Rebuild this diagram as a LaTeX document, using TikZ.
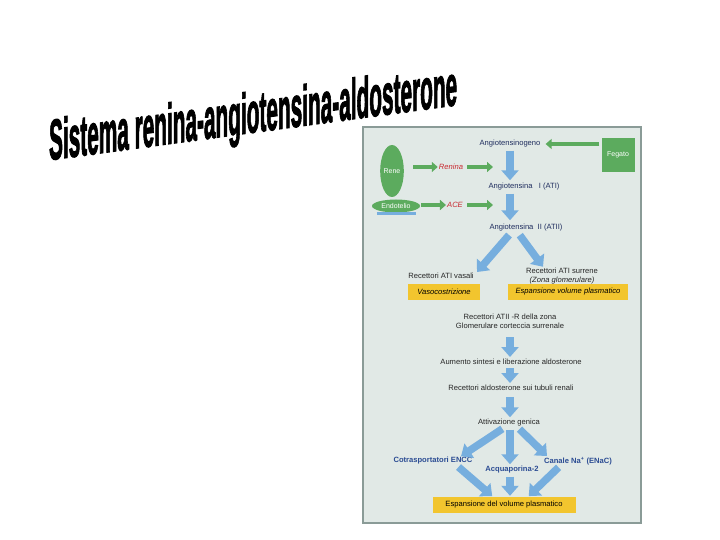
\documentclass[tikz,border=0pt]{standalone}
\usepackage{fontspec}
\setmainfont{Liberation Sans}
\newfontfamily\titolofont[FakeBold=2.5]{Liberation Sans Bold}
\usepackage{xcolor}
\usetikzlibrary{arrows.meta,shapes.geometric}

\definecolor{pannello}{HTML}{E1E9E6}
\definecolor{bordo}{HTML}{8A9B97}
\definecolor{verdino}{HTML}{5CAB5E}
\definecolor{azzurro}{HTML}{76AEDE}
\definecolor{gialloscuro}{HTML}{F2C52E}
\definecolor{navy}{HTML}{1F2D5E}
\definecolor{rosso}{HTML}{C8282F}
\definecolor{bluscuro}{HTML}{2B4C93}

\begin{document}
\begin{tikzpicture}[x=1pt,y=-1pt,
    lab/.style={font=\fontsize{7.6}{9}\selectfont, text=black!85, inner sep=1pt, align=center},
    freccia/.style={draw=azzurro, line width=7.5pt, -{Triangle[width=17pt,length=10pt]}},
    frverde/.style={draw=verdino, line width=4.5pt, -{Triangle[width=10pt,length=6pt]}},
    giallo/.style={fill=gialloscuro, minimum height=16pt, inner sep=0pt, font=\fontsize{7.6}{9}\selectfont\itshape}]
    \useasboundingbox (0,0) rectangle (720,540);

    % titolo
    \node[anchor=base west, inner sep=0pt, yslant=0.135, xscale=0.365,
          font=\fontsize{57}{60}\titolofont] (titolo) at (49,160)
          {Sistema renina-angiotensina-aldosterone};

    % pannello
    \draw[fill=pannello, draw=bordo, line width=1.6pt] (363,127) rectangle (641,523);

    % parte alta
    \node[lab, text=navy] (agen) at (510,144) {Angiotensinogeno};
    \node[fill=verdino, minimum width=33pt, minimum height=34pt, inner sep=0pt, text=white,
          font=\fontsize{7}{8}\selectfont] (fegato) at (618,155) {Fegato};
    \node[ellipse, fill=verdino, minimum width=22pt, minimum height=52pt, inner sep=0pt, text=white,
          font=\fontsize{7}{8}\selectfont] (rene) at (392,171) {Rene};
    \node[lab, text=rosso, font=\fontsize{7.6}{9}\selectfont\itshape] (renina) at (451,167) {Renina};
    \coordinate (c1) at (493,167);
    \node[lab, text=navy] (at1) at (524,187) {Angiotensina \ \ I (ATI)};
    \node[ellipse, fill=verdino, minimum width=48pt, minimum height=13pt, inner sep=0pt, text=white,
          font=\fontsize{7}{8}\selectfont] (endo) at (396,206) {Endotelio};
    \node[lab, text=rosso, font=\fontsize{7.6}{9}\selectfont\itshape] (ace) at (455,205) {ACE};
    \coordinate (c2) at (493,205);
    \node[lab, text=navy] (at2) at (526,228) {Angiotensina \ II (ATII)};

    \draw[azzurro, line width=2.5pt] ([xshift=-2pt]endo.south west |- 0,213.5) -- ([xshift=3pt]endo.south east |- 0,213.5);

    \draw[frverde, shorten <=2pt] (fegato.west |- agen.east) -- ([xshift=4pt]agen.east);
    \draw[frverde, shorten <=9pt] (rene.east |- renina.west) -- (renina.west);
    \draw[frverde, shorten <=3pt] (renina.east) -- (c1);
    \draw[frverde, shorten <=1pt] (endo.east |- ace.west) -- (ace.west);
    \draw[frverde, shorten <=3pt] (ace.east) -- (c2);

    \draw[freccia, shorten <=2pt, shorten >=2pt] (agen.south) -- (agen.south |- at1.north);
    \draw[freccia, shorten <=2pt, shorten >=3pt] (agen.south |- at1.south) -- (agen.south |- at2.north);

    % recettori AT1
    \node[lab] (vasali) at (441,276) {Recettori ATI vasali};
    \node[lab] (surrene) at (562,276) {Recettori ATI surrene\\\itshape(Zona glomerulare)};
    \node[giallo, minimum width=72pt] (vaso) at (444,292) {Vasocostrizione};
    \node[giallo, minimum width=120pt] (espans) at (568,292) {Espansione volume plasmatico};

    \draw[freccia, shorten <=3pt] ([xshift=-15pt]at2.south) -- ([xshift=36pt]vasali.north);
    \draw[freccia, shorten <=3pt] ([xshift=-8pt]at2.south) -- ([xshift=-19pt]surrene.north);

    % aldosterone
    \node[lab] (rzona) at (510,321) {Recettori ATII -R della zona\\Glomerulare corteccia surrenale};
    \node[lab] (aumento) at (511,362) {Aumento sintesi e liberazione aldosterone};
    \node[lab] (tubuli) at (511,388) {Recettori aldosterone sui tubuli renali};
    \node[lab] (genica) at (509,423) {Attivazione genica};

    \draw[freccia, shorten <=8pt, shorten >=1pt] (rzona) -- (rzona |- aumento.north);
    \draw[freccia, shorten <=2pt, shorten >=1pt] (aumento.south -| rzona) -- (rzona |- tubuli.north);
    \draw[freccia, shorten <=5pt, shorten >=1pt] (tubuli.south -| rzona) -- (rzona |- genica.north);

    % effetti
    \node[lab, text=bluscuro, font=\fontsize{7.6}{9}\selectfont\bfseries] (encc) at (433,461) {Cotrasportatori ENCC};
    \node[lab, text=bluscuro, font=\fontsize{7.6}{9}\selectfont\bfseries] (acqua) at (512,470) {Acquaporina-2};
    \node[lab, text=bluscuro, font=\fontsize{7.6}{9}\selectfont\bfseries] (enac) at (578,461) {Canale Na\textsuperscript{+} (ENaC)};
    \node[giallo, minimum width=143pt, font=\fontsize{7.6}{9}\selectfont] (volume) at (504,505) {Espansione del volume plasmatico};

    \draw[freccia, shorten <=2pt] ([xshift=-5pt]genica.south) -- ([xshift=28pt]encc.north);
    \draw[freccia, shorten <=2pt, shorten >=1pt] (genica.south -| rzona) -- (rzona |- acqua.north);
    \draw[freccia, shorten <=2pt] ([xshift=9pt]genica.south) -- ([xshift=-31pt]enac.north);

    \draw[freccia, shorten <=2pt, shorten >=1pt] ([xshift=24pt]encc.south) -- ([xshift=-11pt]volume.north);
    \draw[freccia, shorten <=2pt, shorten >=1pt] (acqua.south -| rzona) -- (rzona |- volume.north);
    \draw[freccia, shorten <=2pt, shorten >=1pt] ([xshift=-18pt]enac.south) -- ([xshift=24pt]volume.north);
\end{tikzpicture}
\end{document}
